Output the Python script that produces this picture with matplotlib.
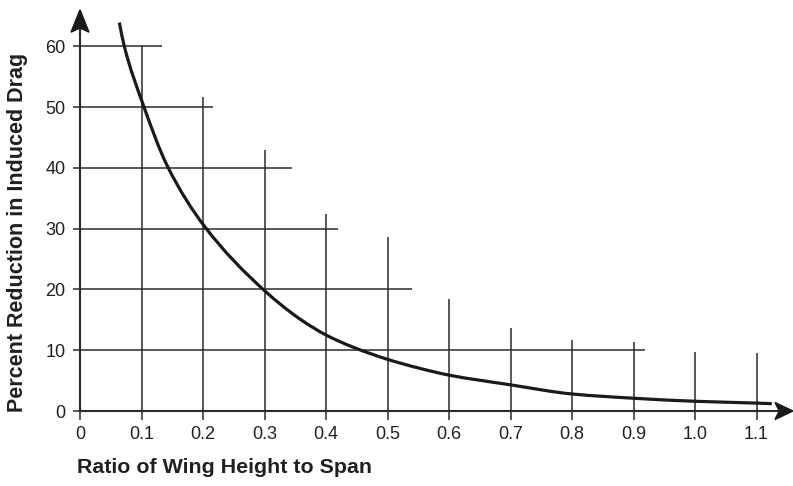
import matplotlib
matplotlib.use("Agg")
import matplotlib.pyplot as plt
from matplotlib.path import Path
from matplotlib.patches import PathPatch, Polygon

# ---- data ----
curve_x = [0.064, 0.072, 0.103, 0.142, 0.203, 0.300, 0.358, 0.400, 0.444, 0.500, 0.553,
           0.600, 0.700, 0.800, 0.900, 1.000, 1.100, 1.125]
curve_y = [63.9, 60.0, 50.3, 40.3, 30.3, 19.8, 15.1, 12.5, 10.5, 8.5, 7.0,
           5.9, 4.3, 2.8, 2.1, 1.6, 1.3, 1.2]

xticks = [0, 0.1, 0.2, 0.3, 0.4, 0.5, 0.6, 0.7, 0.8, 0.9, 1.0, 1.1]
xtick_labels = ["0", "0.1", "0.2", "0.3", "0.4", "0.5", "0.6", "0.7", "0.8", "0.9", "1.0", "1.1"]
yticks = [0, 10, 20, 30, 40, 50, 60]

# heights of vertical grid lines at x = 0.1 ... 1.1
vgrid_x = [0.1, 0.2, 0.3, 0.4, 0.5, 0.6, 0.7, 0.8, 0.9, 1.0, 1.1]
vgrid_top = [60.0, 51.6, 42.9, 32.4, 28.7, 18.4, 13.6, 11.6, 11.4, 9.75, 9.6]
# extents of horizontal grid lines at y = 10 ... 60
hgrid_y = [10, 20, 30, 40, 50, 60]
hgrid_end = [0.919, 0.540, 0.420, 0.344, 0.217, 0.133]

font = ["Liberation Sans", "DejaVu Sans"]
plt.rcParams["font.family"] = font

W, H = 793, 486
fig = plt.figure(figsize=(W / 100, H / 100), dpi=100)
ax = fig.add_axes([80 / W, (H - 411) / H, 713 / W, 411 / H])
ax.set_xlim(0, 713 / 615)
ax.set_ylim(0, 411 / 6.08)

gcol = "#2b2b2b"
for s in ["top", "right"]:
    ax.spines[s].set_visible(False)
ax.spines["left"].set_bounds(0, 63.0)
ax.spines["bottom"].set_bounds(0, 1.137)
for s in ["left", "bottom"]:
    ax.spines[s].set_linewidth(1.5)
    ax.spines[s].set_color(gcol)

ax.set_xticks(xticks)
ax.set_xticklabels(xtick_labels)
ax.set_yticks(yticks)
ax.tick_params(axis="both", direction="out", width=1.1, color=gcol,
               labelsize=13, labelcolor="#231f20")
ax.tick_params(axis="x", length=6.5, pad=4)
ax.tick_params(axis="y", length=5, pad=5.5)

# partial grid
for xv, top in zip(vgrid_x, vgrid_top):
    ax.plot([xv, xv], [0, top], color=gcol, lw=1.1, solid_capstyle="butt", zorder=2)
for yv, end in zip(hgrid_y, hgrid_end):
    ax.plot([0, end], [yv, yv], color=gcol, lw=1.1, solid_capstyle="butt", zorder=2)

# smooth monotone (PCHIP-style) curve through the read points, as cubic Bezier
n = len(curve_x)
h = [curve_x[i + 1] - curve_x[i] for i in range(n - 1)]
d = [(curve_y[i + 1] - curve_y[i]) / h[i] for i in range(n - 1)]
m = [0.0] * n
for i in range(1, n - 1):
    if d[i - 1] * d[i] <= 0:
        m[i] = 0.0
    else:
        w1 = 2 * h[i] + h[i - 1]
        w2 = h[i] + 2 * h[i - 1]
        m[i] = (w1 + w2) / (w1 / d[i - 1] + w2 / d[i])
m[0] = ((2 * h[0] + h[1]) * d[0] - h[0] * d[1]) / (h[0] + h[1])
m[-1] = ((2 * h[-1] + h[-2]) * d[-1] - h[-1] * d[-2]) / (h[-1] + h[-2])
verts = [(curve_x[0], curve_y[0])]
codes = [Path.MOVETO]
for i in range(n - 1):
    verts += [(curve_x[i] + h[i] / 3, curve_y[i] + m[i] * h[i] / 3),
              (curve_x[i + 1] - h[i] / 3, curve_y[i + 1] - m[i + 1] * h[i] / 3),
              (curve_x[i + 1], curve_y[i + 1])]
    codes += [Path.CURVE4] * 3
ax.add_patch(PathPatch(Path(verts, codes), facecolor="none", edgecolor="#1a1a1a",
                       lw=2.3, capstyle="butt", zorder=3, clip_on=False))

# arrow heads
px = 1 / 615
py = 1 / 6.08
yarrow = [(0, 66.0), (9 * px, 62.3), (0, 63.0), (-9 * px, 62.3)]
xarrow = [(713 * px, 0), (1.130, 8.5 * py), (1.137, 0), (1.130, -8.5 * py)]
ax.add_patch(Polygon(yarrow, closed=True, color="#1a1a1a", clip_on=False, zorder=4))
ax.add_patch(Polygon(xarrow, closed=True, color="#1a1a1a", clip_on=False, zorder=4))

fig.text(77 / W, 1 - 467 / H, "Ratio of Wing Height to Span", fontsize=15.4,
         fontweight="bold", color="#231f20", ha="left", va="center")
fig.text(18 / W, 1 - 232 / H, "Percent Reduction in Induced Drag", fontsize=15.5,
         fontweight="bold", color="#231f20", ha="center", va="center", rotation=90)

fig.savefig("out.png", dpi=100)
